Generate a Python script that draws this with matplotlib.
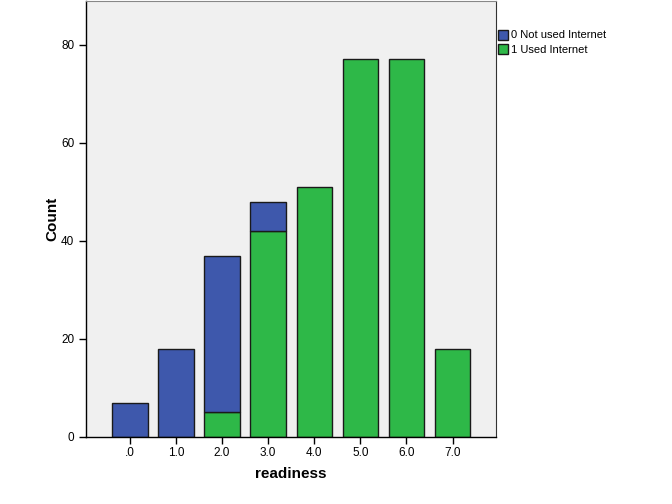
import matplotlib
matplotlib.use("Agg")
import matplotlib.pyplot as plt
import numpy as np
from matplotlib.patches import Patch

plt.rcParams['font.family'] = ['Liberation Sans', 'DejaVu Sans']

categories = [".0", "1.0", "2.0", "3.0", "4.0", "5.0", "6.0", "7.0"]
used = [0, 0, 5, 42, 51, 77, 77, 18]
not_used = [7, 18, 32, 6, 0, 0, 0, 0]
yticks = [0, 20, 40, 60, 80]

blue = "#3E58AC"
green = "#2EB848"
edge = "#1a1a1a"

fig = plt.figure(figsize=(6.72, 5.04), dpi=100)
ax = fig.add_axes([0.128, 0.133, 0.610, 0.866])
ax.set_facecolor("#F0F0F0")

x = np.arange(len(categories))
w = 0.77
u = np.array(used)
n = np.array(not_used)
ax.bar(x[u > 0], u[u > 0], width=w, color=green, edgecolor=edge, linewidth=1)
ax.bar(x[n > 0], n[n > 0], bottom=u[n > 0], width=w, color=blue, edgecolor=edge, linewidth=1)

ax.set_xlim(-0.95, 7.94)
ax.set_ylim(0, 89)
ax.set_xticks(x)
ax.set_xticklabels(categories, fontsize=8.5)
ax.set_yticks(yticks)
ax.set_yticklabels([str(t) for t in yticks], fontsize=8.5)
ax.tick_params(direction='out', length=5, width=1, color='black')
ax.tick_params(axis='x', pad=2)

for s in ['left', 'bottom']:
    ax.spines[s].set_color('black')
    ax.spines[s].set_linewidth(1)
ax.spines['right'].set_color('#333333')
ax.spines['top'].set_color('#888888')

ax.set_xlabel("readiness", fontsize=11, fontweight='bold', labelpad=6)
ax.set_ylabel("Count", fontsize=11, fontweight='bold', labelpad=1)

handles = [Patch(facecolor=blue, edgecolor=edge, label="0 Not used Internet"),
           Patch(facecolor=green, edgecolor=edge, label="1 Used Internet")]
fig.legend(handles=handles, loc='upper left', bbox_to_anchor=(0.734, 0.950),
           frameon=False, fontsize=8, handlelength=0.9, handleheight=1.0,
           handletextpad=0.3, labelspacing=0.3, borderaxespad=0)

fig.savefig("out.png", dpi=100, facecolor='white')
